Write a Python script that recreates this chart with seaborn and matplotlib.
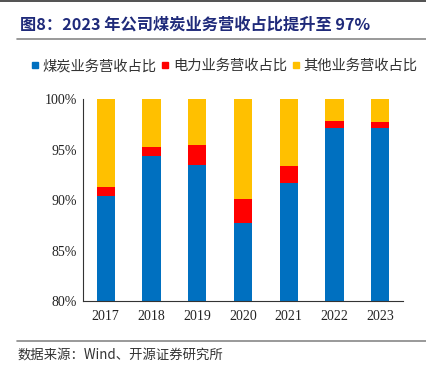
import numpy as np
import pandas as pd
import matplotlib
matplotlib.use("Agg")
import matplotlib.pyplot as plt
import seaborn as sns
from matplotlib.lines import Line2D
from matplotlib.ticker import FuncFormatter, FixedLocator

# Data (%)
years = ['2017', '2018', '2019', '2020', '2021', '2022', '2023']
coal = [90.4, 94.4, 93.5, 87.7, 91.7, 97.1, 97.1]
power = [0.9, 0.9, 2.0, 2.4, 1.7, 0.7, 0.6]
other = [100 - c - p for c, p in zip(coal, power)]
labels = ['煤炭业务营收占比', '电力业务营收占比', '其他业务营收占比']
colors = ['#0070C0', '#FF0000', '#FFC000']

sns.set_style('white')
plt.rcParams['font.family'] = ['Noto Sans CJK SC', 'DejaVu Sans']

df = pd.DataFrame({'year': years, 'coal': coal, 'power': power, 'other': other})
df['c1'] = df['coal']
df['c2'] = df['coal'] + df['power']
df['c3'] = df['c2'] + df['other']

fig = plt.figure(figsize=(4.27, 3.71), dpi=100)
ax = fig.add_axes([0.194, 0.188, 0.75, 0.545])

# draw cumulative totals back to front
for col, color in zip(['c3', 'c2', 'c1'], colors[::-1]):
    sns.barplot(data=df, x='year', y=col, color=color, width=0.4,
                saturation=1, ax=ax, linewidth=0)

ax.set_ylim(80, 100)
ax.set_xlim(-0.5, 6.5)
ax.set_yticks([80, 85, 90, 95, 100])
ax.yaxis.set_major_formatter(FuncFormatter(lambda v, p: f'{v:.0f}%'))
ax.set_xlabel('')
ax.set_ylabel('')
for s in ['top', 'right']:
    ax.spines[s].set_visible(False)
for s in ['left', 'bottom']:
    ax.spines[s].set_color('#333333')
    ax.spines[s].set_linewidth(0.8)

ax.tick_params(axis='x', which='major', length=0, pad=6)
ax.xaxis.set_minor_locator(FixedLocator(np.arange(0.5, 6.6, 1)))
ax.tick_params(axis='x', which='minor', length=3, direction='in', color='#333333')
ax.tick_params(axis='y', length=3, direction='in', color='#333333', pad=4)
for t in ax.get_xticklabels() + ax.get_yticklabels():
    t.set_fontfamily('Liberation Serif')
    t.set_fontsize(10)
    t.set_color('#222222')

handles = [Line2D([0], [0], marker='s', linestyle='', markersize=5,
                  markerfacecolor=c, markeredgecolor=c) for c in colors]
fig.legend(handles, labels, loc='center', bbox_to_anchor=(0.525, 0.822), ncol=3,
           frameon=False, handlelength=0.6, handletextpad=0.25, columnspacing=0.3,
           prop={'family': 'Noto Sans CJK SC', 'size': 10.3}, labelcolor='#333333')

# title, rules and source
fig.add_artist(Line2D([0, 1], [0.997, 0.997], color='#333333', lw=1.2))
fig.text(0.047, 0.935, '图8：2023 年公司煤炭业务营收占比提升至 97%', fontsize=11.7,
         fontweight='bold', color='#1F2A7A', va='center', ha='left')
fig.add_artist(Line2D([0.04, 1], [0.895, 0.895], color='#888888', lw=1.2))
fig.add_artist(Line2D([0.04, 1], [0.082, 0.082], color='#888888', lw=1.2))
fig.text(0.042, 0.043, '数据来源：Wind、开源证券研究所', fontsize=9.6,
         color='#333333', va='center', ha='left')

fig.savefig('out.png', dpi=100)
